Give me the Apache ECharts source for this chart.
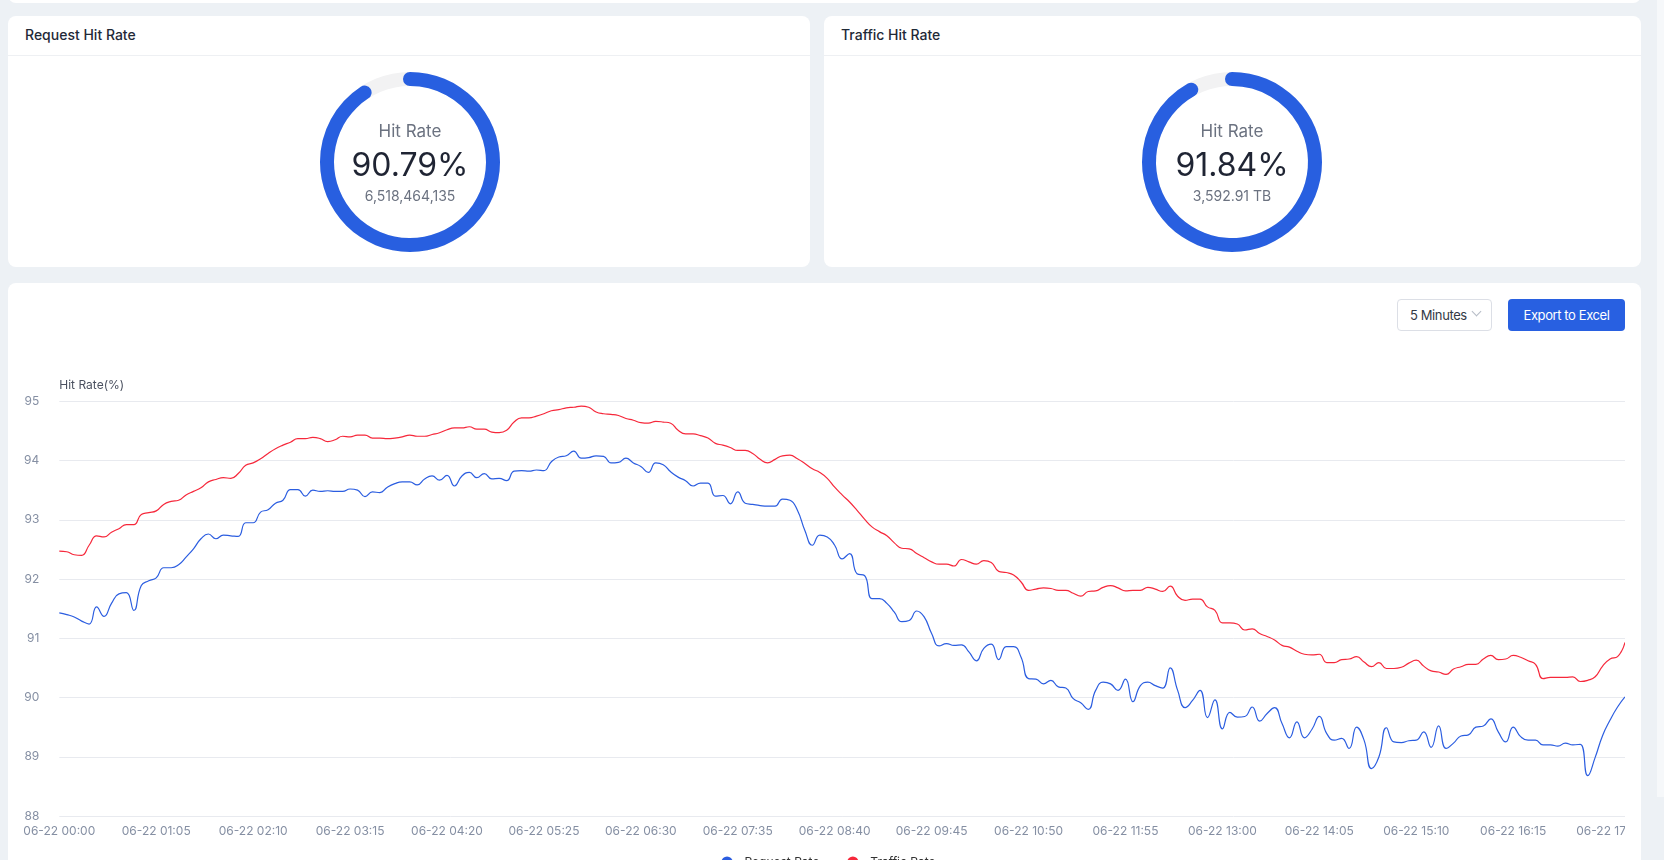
<!DOCTYPE html>
<html>
<head>
<meta charset="utf-8">
<script src="https://cdn.jsdelivr.net/npm/echarts@6/dist/echarts.min.js"></script>
<style>
  html, body { margin:0; padding:0; width:1664px; height:860px; overflow:hidden; background:#edf1f5; font-family: Inter, "Noto Sans", sans-serif; }
  .card { position:absolute; background:#fff; border-radius:8px; }
  .title { position:absolute; left:17px; top:8px; font-size:14px; font-weight:500; color:#1f2937; line-height:22px; }
  .divider { position:absolute; left:0; right:0; top:39px; height:1px; background:#eef0f3; }
  .donut { position:absolute; }
  #sel { position:absolute; left:1397px; top:299px; width:93px; height:30px; border:1px solid #dcdfe6; border-radius:4px; background:#fff; box-sizing:content-box; }
  #sel span { position:absolute; left:12px; top:6px; font-size:13px; letter-spacing:-0.4px; color:#333a45; line-height:18px; }
  #sel i { position:absolute; left:75px; top:8px; width:6px; height:6px; border-right:1px solid #b6bcc6; border-bottom:1px solid #b6bcc6; transform:rotate(45deg); }
  #btn { position:absolute; left:1508px; top:299px; width:117px; height:32px; background:#2860e1; border-radius:4px; color:#fff; font-size:13px; letter-spacing:-0.4px; line-height:32px; text-align:center; }
</style>
</head>
<body>
<div class="card" style="left:8px; top:-20px; width:1633px; height:23px;"></div>
<div class="card" style="left:8px; top:16px; width:802px; height:251px;">
  <div class="title">Request Hit Rate</div>
  <div class="divider"></div>
</div>
<div class="card" style="left:824px; top:16px; width:817px; height:251px;">
  <div class="title">Traffic Hit Rate</div>
  <div class="divider"></div>
</div>
<div class="card" style="left:8px; top:283px; width:1633px; height:640px;"></div>
<div style="position:absolute; left:1657px; top:0; width:7px; height:797px; background:#f6f8fa;"></div>
<div id="d1" class="donut" style="left:260px; top:57px; width:300px; height:210px;"></div>
<div id="d2" class="donut" style="left:1082px; top:57px; width:300px; height:210px;"></div>
<div id="sel"><span>5 Minutes</span><i></i></div>
<div id="btn">Export to Excel</div>
<div id="line" style="position:absolute; left:24px; top:340px; width:1601px; height:540px;"></div>
<script>
// ---- data ----
const requestHitRate = 90.79;
const requestTotal = "6,518,464,135";
const trafficHitRate = 91.84;
const trafficTotal = "3,592.91 TB";

const seriesNames = ["Request Rate", "Traffic Rate"];

const requestRate = [
91.43,91.40,91.36,91.29,91.24,91.53,91.37,91.59,91.75,91.77,
91.47,91.89,91.97,92.02,92.19,92.19,92.24,92.37,92.51,92.68,
92.76,92.68,92.74,92.73,92.72,92.95,92.95,93.13,93.17,93.28,
93.33,93.51,93.51,93.40,93.50,93.48,93.49,93.48,93.48,93.52,
93.50,93.39,93.47,93.46,93.55,93.61,93.64,93.64,93.59,93.69,
93.74,93.67,93.75,93.57,93.74,93.80,93.71,93.78,93.69,93.70,
93.66,93.82,93.83,93.82,93.84,93.83,93.98,94.06,94.08,94.16,
94.04,94.05,94.08,94.07,93.96,93.97,94.04,93.96,93.90,93.80,
93.96,93.93,93.81,93.72,93.66,93.57,93.62,93.62,93.40,93.41,
93.27,93.47,93.28,93.26,93.24,93.23,93.23,93.35,93.33,93.16,
92.82,92.57,92.74,92.71,92.57,92.34,92.43,92.09,92.06,91.67,
91.67,91.59,91.44,91.28,91.30,91.46,91.36,91.08,90.87,90.91,
90.88,90.89,90.77,90.62,90.83,90.90,90.64,90.86,90.86,90.68,
90.32,90.31,90.23,90.29,90.18,90.16,89.98,89.91,89.80,90.12,
90.26,90.23,90.12,90.31,89.93,90.20,90.26,90.20,90.16,90.50,
90.12,89.83,89.95,90.12,89.66,89.96,89.47,89.75,89.67,89.68,
89.84,89.60,89.73,89.83,89.56,89.32,89.59,89.32,89.46,89.68,
89.39,89.28,89.31,89.14,89.50,89.28,88.80,89.00,89.49,89.25,
89.24,89.27,89.28,89.42,89.16,89.52,89.14,89.23,89.35,89.37,
89.50,89.52,89.64,89.42,89.25,89.50,89.34,89.28,89.28,89.20,
89.20,89.18,89.23,89.20,89.21,88.68,88.99,89.36,89.62,89.84,
90.01
];

const trafficRate = [
92.47,92.46,92.41,92.40,92.57,92.73,92.71,92.79,92.85,92.92,
92.92,93.09,93.12,93.15,93.26,93.31,93.33,93.42,93.48,93.54,
93.64,93.68,93.71,93.70,93.78,93.92,93.96,94.03,94.12,94.20,
94.26,94.31,94.37,94.37,94.39,94.37,94.32,94.35,94.41,94.40,
94.43,94.43,94.38,94.38,94.37,94.38,94.40,94.43,94.41,94.41,
94.44,94.47,94.52,94.55,94.55,94.57,94.53,94.53,94.48,94.47,
94.51,94.65,94.72,94.72,94.75,94.79,94.84,94.86,94.89,94.90,
94.92,94.90,94.82,94.79,94.78,94.76,94.71,94.68,94.64,94.63,
94.66,94.65,94.63,94.51,94.45,94.45,94.42,94.38,94.29,94.26,
94.22,94.17,94.17,94.12,94.02,93.96,94.02,94.08,94.09,94.03,
93.95,93.86,93.80,93.70,93.55,93.42,93.30,93.16,93.01,92.88,
92.80,92.73,92.61,92.52,92.51,92.43,92.36,92.29,92.25,92.25,
92.22,92.33,92.29,92.25,92.31,92.28,92.13,92.11,92.07,91.95,
91.81,91.83,91.85,91.84,91.81,91.81,91.76,91.71,91.79,91.80,
91.86,91.89,91.85,91.80,91.81,91.81,91.86,91.83,91.79,91.88,
91.71,91.64,91.66,91.66,91.53,91.47,91.26,91.26,91.24,91.14,
91.16,91.08,91.03,90.97,90.88,90.85,90.78,90.73,90.72,90.73,
90.59,90.59,90.64,90.65,90.69,90.60,90.52,90.59,90.49,90.49,
90.51,90.58,90.63,90.53,90.45,90.43,90.39,90.48,90.52,90.56,
90.56,90.65,90.71,90.64,90.65,90.71,90.68,90.62,90.56,90.32,
90.34,90.34,90.34,90.35,90.27,90.29,90.35,90.53,90.65,90.69,
90.93
];

// time categories: 06-22 00:00 .. 06-22 17:30, every 5 minutes
const categories = [];
for (let m = 0; m <= 17 * 60 + 30; m += 5) {
  const h = String(Math.floor(m / 60)).padStart(2, '0');
  const mm = String(m % 60).padStart(2, '0');
  categories.push('06-22 ' + h + ':' + mm);
}

const yTicks = { min: 88, max: 95, interval: 1 };

// ---- donuts ----
function donut(el, value, sub) {
  const c = echarts.init(document.getElementById(el));
  c.setOption({
    series: [{
      type: 'gauge',
      center: ['50%', 105],
      radius: 90,
      startAngle: 90,
      endAngle: -270,
      min: 0, max: 100,
      pointer: { show: false },
      progress: { show: true, roundCap: true, width: 14, itemStyle: { color: '#285fe0' } },
      axisLine: { lineStyle: { width: 14, color: [[1, '#f2f2f3']] } },
      axisTick: { show: false }, splitLine: { show: false }, axisLabel: { show: false },
      title: { offsetCenter: [0, -30], fontSize: 17, color: '#6b7280', fontFamily: 'Inter', fontWeight: 'normal' },
      detail: {
        offsetCenter: [0, 18],
        fontWeight: 'normal',
        formatter: function (v) { return '{v|' + v.toFixed(2) + '%}\n{s|' + sub + '}'; },
        rich: {
          v: { fontSize: 32, color: '#1f2433', lineHeight: 34, fontFamily: 'Inter', fontWeight: 'normal' },
          s: { fontSize: 14, color: '#6b7280', lineHeight: 28, fontFamily: 'Inter', fontWeight: 'normal' }
        }
      },
      data: [{ value: value, name: 'Hit Rate' }]
    }]
  });
}
donut('d1', requestHitRate, requestTotal);
donut('d2', trafficHitRate, trafficTotal);

// ---- line chart ----
const lc = echarts.init(document.getElementById('line'));
lc.setOption({
  textStyle: { fontFamily: 'Inter' },
  legend: {
    top: 511, left: 'center', itemGap: 20, itemWidth: 25, itemHeight: 14,
    textStyle: { fontSize: 12, color: '#333' },
    data: seriesNames
  },
  grid: { left: 35.3, right: 0, top: 61.3, bottom: 64, containLabel: false, outerBoundsMode: 'none' },
  xAxis: {
    type: 'category', boundaryGap: false, data: categories,
    axisLine: { show: false }, axisTick: { show: false },
    axisLabel: { interval: 12, color: '#858fa3', fontSize: 12, margin: 9 }
  },
  yAxis: {
    type: 'value', min: yTicks.min, max: yTicks.max, interval: yTicks.interval,
    name: 'Hit Rate(%)', nameLocation: 'end', nameGap: 10,
    nameTextStyle: { align: 'left', color: '#4b5160', fontSize: 12 },
    axisLine: { show: false }, axisTick: { show: false },
    axisLabel: { color: '#858fa3', fontSize: 12, margin: 20 },
    splitLine: { lineStyle: { color: '#e8eaef' } }
  },
  series: [
    { name: seriesNames[0], type: 'line', smooth: true, showSymbol: false, symbol: 'circle', data: requestRate,
      lineStyle: { width: 1.2, color: '#2b5de0' }, itemStyle: { color: '#2b5de0' } },
    { name: seriesNames[1], type: 'line', smooth: true, showSymbol: false, symbol: 'circle', data: trafficRate,
      lineStyle: { width: 1.2, color: '#f6283b' }, itemStyle: { color: '#f6283b' } }
  ]
});
</script>
</body>
</html>
